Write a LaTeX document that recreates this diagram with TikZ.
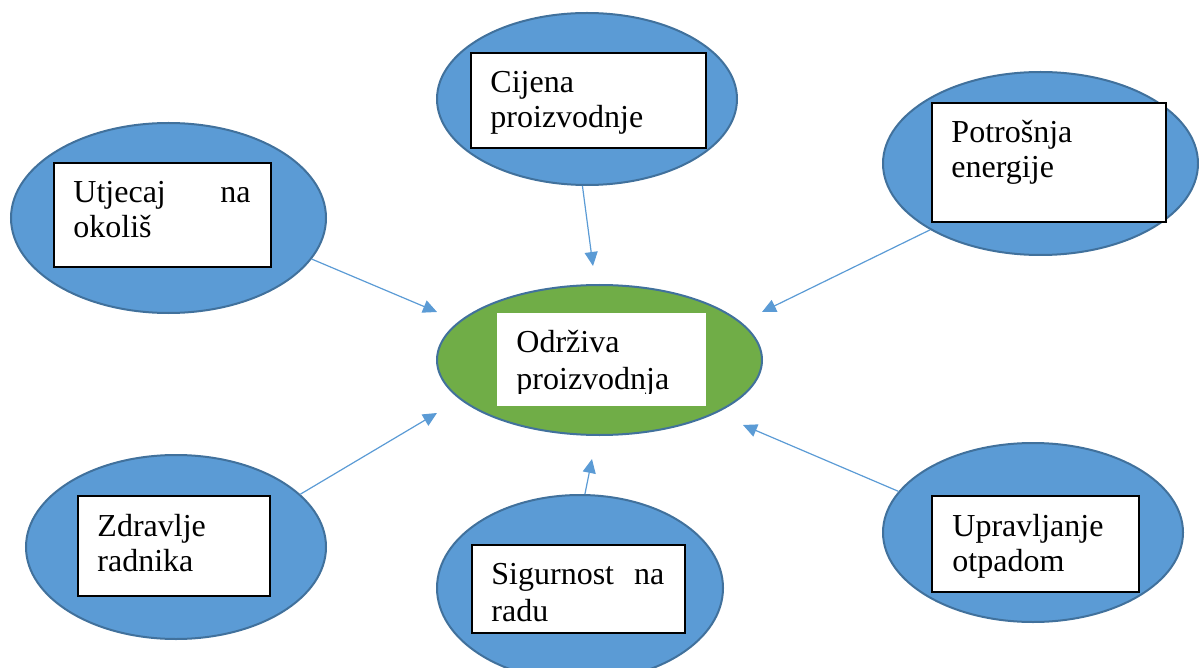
\documentclass[tikz,border=0pt]{standalone}
\usepackage{fontspec}
\setmainfont{Liberation Serif}
\usetikzlibrary{shapes.geometric,arrows.meta}
\definecolor{ellblue}{HTML}{5B9BD5}
\definecolor{ellline}{HTML}{41719C}
\definecolor{ellgreen}{HTML}{70AD47}
\begin{document}
\begin{tikzpicture}[x=1pt,y=-1pt,
  bubble/.style={ellipse, draw=ellline, line width=2pt, fill=ellblue, inner sep=0pt},
  textbox/.style={rectangle, draw=black, line width=1.5pt, fill=white, inner sep=0pt},
  lbl/.style={inner sep=0pt, anchor=base west, align=left, font=\fontsize{32}{35.5}\selectfont},
  link/.style={draw=ellblue, line width=1.2pt, -{Triangle[length=14pt,width=13pt]}}]
\useasboundingbox (0,0) rectangle (1199,668);

% ellipses
\node[bubble, minimum width=315pt, minimum height=190pt] (e1) at (168.5,218) {};
\node[bubble, minimum width=300pt, minimum height=172pt] (e5) at (587,99) {};
\node[bubble, minimum width=315pt, minimum height=183pt] (e2) at (1040.5,163.5) {};
\node[bubble, fill=ellgreen, minimum width=325pt, minimum height=150pt] (e0) at (599.5,360) {};
\node[bubble, minimum width=300pt, minimum height=184pt] (e3) at (176,547) {};
\node[bubble, minimum width=286pt, minimum height=186pt] (e6) at (580,588) {};
\node[bubble, minimum width=300pt, minimum height=179pt] (e4) at (1033,532.5) {};

% text boxes
\node[textbox, minimum width=217pt, minimum height=104pt] (r1) at (162.5,215) {};
\node[textbox, minimum width=235pt, minimum height=95pt] (r5) at (588.5,100.5) {};
\node[textbox, minimum width=234pt, minimum height=119pt] (r2) at (1049,162.5) {};
\node[textbox, draw=none, minimum width=209pt, minimum height=93pt] (r0) at (601.5,359.5) {};
\node[textbox, minimum width=192pt, minimum height=100pt] (r3) at (174,546) {};
\node[textbox, minimum width=213pt, minimum height=88pt] (r6) at (578.5,589) {};
\node[textbox, minimum width=207pt, minimum height=96pt] (r4) at (1035.5,544) {};

% labels
\node[lbl, text width=177pt] (l1) at ([xshift=20pt,yshift=-40pt]r1.north west) {Utjecaj\hfill na\\okoliš};
\node[lbl, text width=195pt] (l5) at ([xshift=20pt,yshift=-40pt]r5.north west) {Cijena\\proizvodnje};
\node[lbl, text width=194pt] (l2) at ([xshift=20pt,yshift=-40pt]r2.north west) {Potrošnja\\energije};
\begin{scope}
\clip (r0.north west) rectangle ([yshift=13pt]r0.south east);
\node[lbl, text width=169pt] (l0) at ([xshift=20pt,yshift=-40pt]r0.north west) {Održiva\\[1.5pt]proizvodnja};
\end{scope}
\node[lbl, text width=152pt] (l3) at ([xshift=20pt,yshift=-41pt]r3.north west) {Zdravlje\\radnika};
\node[lbl, text width=173pt] (l6) at ([xshift=20pt,yshift=-40pt]r6.north west) {Sigurnost\hfill na\\[1.5pt]radu};
\node[lbl, text width=167pt] (l4) at ([xshift=21pt,yshift=-41pt]r4.north west) {Upravljanje\\otpadom};

% arrow tips
\coordinate (t1) at (437,312);
\coordinate (t2) at (762,312);
\coordinate (t3) at (437,413);
\coordinate (t4) at (743,425);
\coordinate (t5) at (593,266);
\coordinate (t6) at (592,459);

\draw[link] (e1.-16.4) -- (t1);
\draw[link] (e2.211.5) -- (t2);
\draw[link] (e3.23.6) -- (t3);
\draw[link] (e4.163.3) -- (t4);
\draw[link] (e5.267.3) -- (t5);
\draw[link] (e6.87.5) -- (t6);
\end{tikzpicture}
\end{document}
